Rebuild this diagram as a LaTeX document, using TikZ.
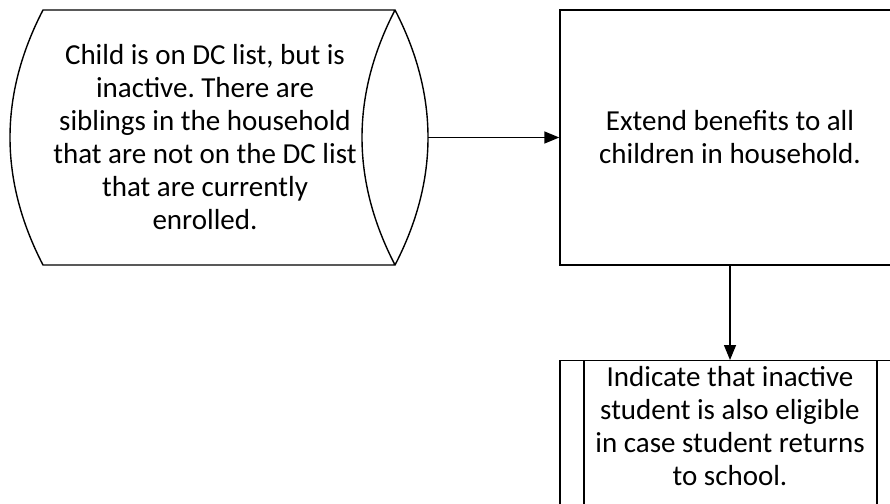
\documentclass[tikz,border=0pt]{standalone}
\usepackage{fontspec}
\setmainfont{Carlito}
\frenchspacing
\usetikzlibrary{arrows.meta}
\begin{document}
\begin{tikzpicture}[x=1pt,y=-1pt,
  outline/.style={draw=black,line width=1.4pt},
  txt/.style={align=center,font=\fontsize{29}{33}\selectfont\frenchspacing,inner sep=0pt},
  conn/.style={draw=black,line width=1.4pt,-{Triangle[length=15pt,width=12pt]}}]
\useasboundingbox (0,0) rectangle (890,503);
\clip (0,0) rectangle (890,503);
\fill[white] (0,0) rectangle (890,503);
% left stored-data shape
\coordinate (tl) at (43,10);
\coordinate (bl) at (43,265);
\coordinate (tr) at (395,10);
\coordinate (br) at (395,265);
\coordinate (lensR) at (428,137.5);
\draw[outline,line join=round] (tl) -- (tr) .. controls (351,95) and (351,180) .. (br) -- (bl)
  .. controls (-1,180) and (-1,95) .. (tl) -- cycle;
\draw[outline] (tr) .. controls (439,95) and (439,180) .. (br);
\node[txt] (src) at (205,137) {Child is on DC list, but is\\inactive. There are\\siblings in the household\\that are not on the DC list\\that are currently\\enrolled.};
% process box
\node[outline,minimum width=340pt,minimum height=255pt,inner sep=0pt,txt] (ext) at (730,137.5) {Extend benefits to all\\children in household.};
% predefined process box
\node[outline,minimum width=340pt,minimum height=160pt,inner sep=0pt,anchor=north] (ind) at (730,360) {};
\draw[outline] (584,360) -- (584,520);
\draw[outline] (877,360) -- (877,520);
\node[txt,anchor=north] (indt) at (730,366) {Indicate that inactive\\student is also eligible\\in case student returns\\to school.};
% connectors
\draw[conn] (lensR) -- (ext.west);
\draw[conn] (ext.south) -- (ind.north);
\end{tikzpicture}
\end{document}
